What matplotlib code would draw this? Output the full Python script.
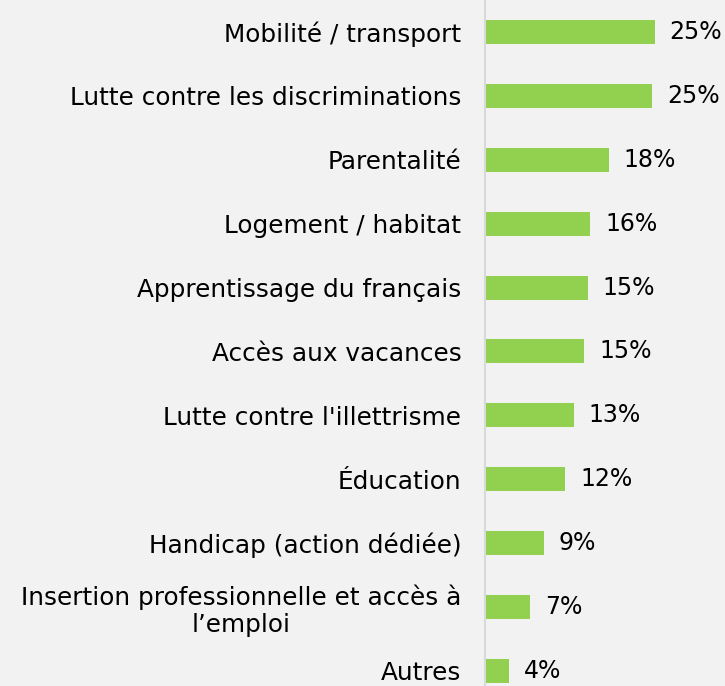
import matplotlib
matplotlib.use("Agg")
import matplotlib.pyplot as plt

categories = [
    "Mobilité / transport",
    "Lutte contre les discriminations",
    "Parentalité",
    "Logement / habitat",
    "Apprentissage du français",
    "Accès aux vacances",
    "Lutte contre l'illettrisme",
    "Éducation",
    "Handicap (action dédiée)",
    "Insertion professionnelle et accès à\nl’emploi",
    "Autres",
]
values = [25.1, 24.7, 18.3, 15.6, 15.2, 14.7, 13.1, 11.9, 8.7, 6.7, 3.5]
value_labels = ["25%", "25%", "18%", "16%", "15%", "15%", "13%", "12%", "9%", "7%", "4%"]

plt.rcParams['font.family'] = ['DejaVu Sans']

W, H = 725, 686
fig = plt.figure(figsize=(W / 100, H / 100), dpi=100)
fig.patch.set_facecolor("#f2f2f2")
left = 485 / W
ax = fig.add_axes([left, 0, 1 - left, 1])
ax.set_facecolor("#f2f2f2")

y = list(range(len(categories)))
ax.barh(y, values, height=0.375, color="#92d050", zorder=2)
ax.set_ylim(10.235, -0.5)
ax.set_xlim(0, 35.5)

for yi, v, lab in zip(y, values, value_labels):
    ax.annotate(lab, (v, yi), xytext=(15, 0), textcoords="offset pixels",
                va="center", ha="left", fontsize=17, color="#000000")

ax.set_yticks(y)
ax.set_yticklabels(categories, fontsize=17.8, color="#000000", multialignment="center",
                   linespacing=1.15)
ax.tick_params(axis="y", length=0, pad=17)
ax.set_xticks([])
for s in ["top", "right", "bottom"]:
    ax.spines[s].set_visible(False)
ax.spines["left"].set_color("#d9d9d9")
ax.spines["left"].set_linewidth(1.5)

fig.savefig("out.png", dpi=100, facecolor=fig.get_facecolor())
